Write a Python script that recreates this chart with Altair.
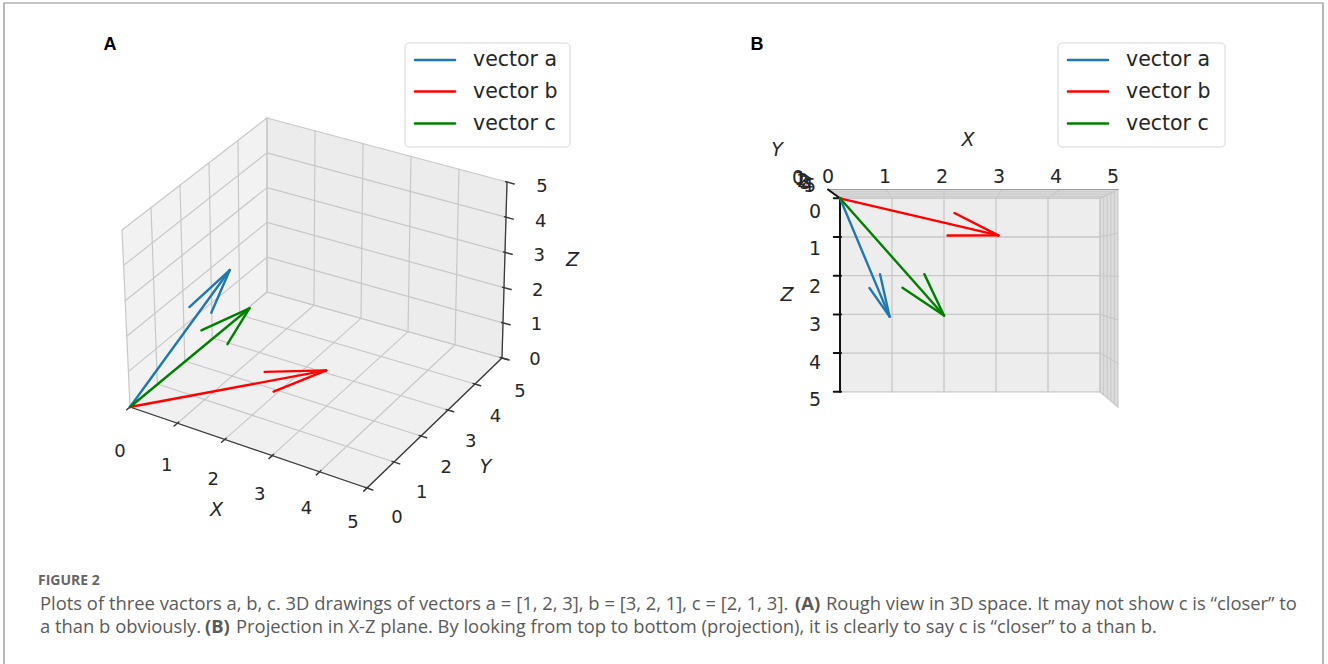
import altair as alt
import numpy as np
import pandas as pd

# ---------------- data ----------------
vector_names = ["vector a", "vector b", "vector c"]
vector_a = [1, 2, 3]
vector_b = [3, 2, 1]
vector_c = [2, 1, 3]
vector_colors = ["#1f77b4", "#ff0000", "#008000"]
tick_values = [0, 1, 2, 3, 4, 5]
axis_titles = ["X", "Y", "Z"]
panel_letters = ["A", "B"]
caption_head = "FIGURE 2"
caption_line1 = ["Plots of three vactors a, b, c. 3D drawings of vectors a = [1, 2, 3], b = [3, 2, 1], c = [2, 1, 3].",
                 "(A)",
                 "Rough view in 3D space. It may not show c is \u201ccloser\u201d to"]
caption_line2 = ["a than b obviously.",
                 "(B)",
                 "Projection in X-Z plane. By looking from top to bottom (projection), it is clearly to say c is \u201ccloser\u201d to a than b."]

# ---------------- layout ----------------
W, H = 1328, 664
# panel A: screen corners of the 0..5 cube (flags: 0 -> 0, 1 -> 5)
A_CORNERS = {
    (0, 0, 0): (130, 407), (1, 0, 0): (367, 488), (0, 1, 0): (267, 292), (1, 1, 0): (502, 358),
    (0, 0, 1): (122, 230), (1, 0, 1): (364, 306), (0, 1, 1): (267, 118), (1, 1, 1): (507, 182),
}
# panel B: far face (y=0) and near face (y=5): (x0, sx, y0, sz)
B_FAR = (840.0, 52.0, 198.3, 38.7)
B_NEAR = (828.0, 58.0, 189.5, 43.5)


def projA(x, y, z):
    u, v, w = x / 5.0, y / 5.0, z / 5.0
    px = py = 0.0
    for (i, j, k), (cx, cy) in A_CORNERS.items():
        wt = (u if i else 1 - u) * (v if j else 1 - v) * (w if k else 1 - w)
        px += wt * cx
        py += wt * cy
    return px, py


def projB(x, y, z):
    t = y / 5.0
    fx = B_FAR[0] + B_FAR[1] * x
    fy = B_FAR[2] + B_FAR[3] * z
    nx = B_NEAR[0] + B_NEAR[1] * x
    ny = B_NEAR[2] + B_NEAR[3] * z
    return fx + (nx - fx) * t, fy + (ny - fy) * t


def arrow_heads(vec, ratio=0.3, angle=15.0):
    v = np.array(vec, dtype=float)
    norm = np.linalg.norm(v[:2])
    k = np.array([v[1] / norm, -v[0] / norm, 0.0]) if norm else np.array([0.0, 1.0, 0.0])
    th = np.radians(angle)
    out = []
    for sgn in (1, -1):
        vr = v * np.cos(th) + sgn * np.cross(k, v) * np.sin(th) + k * np.dot(k, v) * (1 - np.cos(th))
        out.append(tuple(v - ratio * vr))
    return out


segs = []


def seg(p, q, c, w):
    segs.append(dict(x=float(p[0]), y=float(p[1]), x2=float(q[0]), y2=float(q[1]), c=c, w=w))


panes = []


def pane(pts, color):
    path = "M" + "L".join(f"{float(px):.2f},{float(py):.2f}" for px, py in pts) + "Z"
    panes.append((path, color))


texts = []
TICK = "#262626"


def txt(x, y, t, size, color=TICK, font="DejaVu Sans", weight="normal", style="normal", align="center"):
    texts.append(dict(x=float(x), y=float(y), t=t, size=size, color=color, font=font, weight=weight, style=style, align=align))


vectors = [vector_a, vector_b, vector_c]
GRID = "#c8c8c8"

# ---------------- panel A ----------------
pane([projA(0, 0, 0), projA(0, 5, 0), projA(0, 5, 5), projA(0, 0, 5)], "#f2f2f2")
pane([projA(0, 5, 0), projA(5, 5, 0), projA(5, 5, 5), projA(0, 5, 5)], "#ececec")
pane([projA(0, 0, 0), projA(5, 0, 0), projA(5, 5, 0), projA(0, 5, 0)], "#f0f0f0")

for t in tick_values:
    seg(projA(t, 0, 0), projA(t, 5, 0), GRID, 1.2)
    seg(projA(0, t, 0), projA(5, t, 0), GRID, 1.2)
    seg(projA(0, t, 0), projA(0, t, 5), GRID, 1.2)
    seg(projA(0, 0, t), projA(0, 5, t), GRID, 1.2)
    seg(projA(t, 5, 0), projA(t, 5, 5), GRID, 1.2)
    seg(projA(0, 5, t), projA(5, 5, t), GRID, 1.2)

AX = "#3a3a3a"
seg(projA(0, 0, 0), projA(5, 0, 0), AX, 1.3)
seg(projA(5, 0, 0), projA(5, 5, 0), AX, 1.3)
seg(projA(5, 5, 0), projA(5, 5, 5), AX, 1.3)
for t in tick_values:
    seg(projA(t, -0.12, 0), projA(t, 0.05, 0), AX, 1.5)
    seg(projA(5.12, t, 0), projA(4.96, t, 0), AX, 1.5)
    seg(projA(5.15, 5, t), projA(4.97, 5, t), AX, 1.5)

for vec, col in zip(vectors, vector_colors):
    tip = projA(*vec)
    seg(projA(0, 0, 0), tip, col, 2.4)
    for h in arrow_heads(vec):
        seg(tip, projA(*h), col, 2.4)

for t in tick_values:
    f = t / 5.0
    bx, by = projA(t, 0, 0)
    txt(bx - 10 - 4 * f, by + 45 - 10 * f, str(t), 18)
    bx, by = projA(5, t, 0)
    txt(bx + 30 - 12 * f, by + 30 + 4 * f, str(t), 18)
    bx, by = projA(5, 5, t)
    txt(bx + 33 + 2 * f, by + 2 + 3 * f, str(t), 18)

bx, by = projA(2.5, 0, 0)
txt(bx - 32, by + 62, axis_titles[0], 19, style="italic")
bx, by = projA(5, 2.5, 0)
txt(bx + 51, by + 44, axis_titles[1], 19, style="italic")
bx, by = projA(5, 5, 2.5)
txt(bx + 68, by - 10, axis_titles[2], 19, style="italic")

# ---------------- panel B ----------------
pane([projB(0, 0, 0), projB(5, 0, 0), projB(5, 0, 5), projB(0, 0, 5)], "#ededed")
pane([projB(5, 0, 0), projB(5, 5, 0), projB(5, 5, 5), projB(5, 0, 5)], "#dcdcdc")
pane([projB(0, 0, 0), projB(0, 5, 0), projB(5, 5, 0), projB(5, 0, 0)], "#e2e2e2")

for t in tick_values:
    seg(projB(t, 0, 0), projB(t, 0, 5), GRID, 1.3)
    seg(projB(0, 0, t), projB(5, 0, t), GRID, 1.3)
    seg(projB(5, 0, t), projB(5, 5, t), GRID, 1.1)
    seg(projB(5, t, 0), projB(5, t, 5), GRID, 1.1)
    seg(projB(t, 0, 0), projB(t, 5, 0), GRID, 1.1)
    seg(projB(0, t, 0), projB(5, t, 0), GRID, 1.1)

seg(projB(0, 5, 0), projB(5, 5, 0), "#9a9a9a", 1.2)
seg(projB(0, 0, 0), projB(0, 0, 5), "#111111", 2.0)
seg(projB(0, 0, 0), projB(0, 5, 0), "#111111", 2.0)
for t in tick_values:
    seg(projB(-0.12, 0, t), projB(0.02, 0, t), "#111111", 2.0)

for vec, col in zip(vectors, vector_colors):
    tip = projB(*vec)
    seg(projB(0, 0, 0), tip, col, 2.4)
    for h in arrow_heads(vec):
        seg(tip, projB(*h), col, 2.4)

for t in tick_values:
    bx, by = projB(t, 5, 0)
    txt(bx - t, by - 12.5, str(t), 19)
    bx, by = projB(0, 0, t)
    txt(bx - 25, by + 13.4 - 1.0 * t, str(t), 19)
    bx, by = projB(0, t, 0)
    txt(bx - 30, by - 12, str(5 - t), 19)

txt(968, 140, axis_titles[0], 19, style="italic")
txt(777, 150, axis_titles[1], 19, style="italic")
txt(787, 295, axis_titles[2], 19, style="italic")

# ---------------- legends ----------------
legend_boxes = [dict(x=405, x2=570, y=43, y2=147), dict(x=1058, x2=1225, y=43, y2=147)]
legend_rows = [60, 91.5, 123.5]
for box in legend_boxes:
    for name, col, ly in zip(vector_names, vector_colors, legend_rows):
        seg((box["x"] + 10, ly), (box["x"] + 50, ly), col, 2.6)
        txt(box["x"] + 68, ly, name, 20.5, color="#262626", align="left")

# ---------------- panel letters and caption ----------------
txt(110, 45, panel_letters[0], 18, color="#000000", font="Liberation Sans", weight="bold")
txt(757, 45, panel_letters[1], 18, color="#000000", font="Liberation Sans", weight="bold")

CAP = "#5a5a5a"
CF = "Open Sans"
CS = 18.4
txt(38, 581, caption_head, 14, color="#666666", font=CF, weight="bold", align="left")
txt(40, 604, caption_line1[0], CS, color=CAP, font=CF, align="left")
txt(795, 604, caption_line1[1], CS, color=CAP, font=CF, weight="bold", align="left")
txt(826, 604, caption_line1[2], CS, color=CAP, font=CF, align="left")
txt(40, 627, caption_line2[0], CS, color=CAP, font=CF, align="left")
txt(205, 627, caption_line2[1], CS, color=CAP, font=CF, weight="bold", align="left")
txt(236, 627, caption_line2[2], CS, color=CAP, font=CF, align="left")

# ---------------- chart ----------------
xs = alt.Scale(domain=[0, W], nice=False, zero=False)
ys = alt.Scale(domain=[0, H], nice=False, zero=False, reverse=True)

seg_df = pd.DataFrame(segs)
text_df = pd.DataFrame(texts)

border = alt.Chart(pd.DataFrame([dict(x=4, x2=1323, y=3, y2=700)])).mark_rect(
    fill="white", fillOpacity=0, stroke="#8c8c8c", strokeWidth=1.2
).encode(
    x=alt.X("x:Q", scale=xs, axis=None), x2="x2:Q",
    y=alt.Y("y:Q", scale=ys, axis=None), y2="y2:Q",
)

# panes: filled polygons drawn as custom symbol paths anchored at the pixel origin (size 4 -> 1 px per unit)
anchor = pd.DataFrame([dict(x=0.0, y=0.0)])
pane_layers = []
for path, col in panes:
    pane_layers.append(
        alt.Chart(anchor).mark_point(shape=path, size=4, filled=True, fill=col, opacity=1, strokeWidth=0).encode(
            x=alt.X("x:Q", scale=xs, axis=None),
            y=alt.Y("y:Q", scale=ys, axis=None),
        )
    )

rules = alt.Chart(seg_df).mark_rule(strokeCap="round").encode(
    x=alt.X("x:Q", scale=xs, axis=None), x2="x2:Q",
    y=alt.Y("y:Q", scale=ys, axis=None), y2="y2:Q",
    color=alt.Color("c:N", scale=None),
    strokeWidth=alt.StrokeWidth("w:Q", scale=None),
)

legend_df = pd.DataFrame(legend_boxes)
legend_bg = alt.Chart(legend_df).mark_rect(
    fill="white", fillOpacity=0.85, stroke="#d6d6d6", strokeWidth=1, cornerRadius=4
).encode(
    x=alt.X("x:Q", scale=xs, axis=None), x2="x2:Q",
    y=alt.Y("y:Q", scale=ys, axis=None), y2="y2:Q",
)

seg_under = seg_df.iloc[: len(seg_df) - 6]
seg_leg = seg_df.iloc[len(seg_df) - 6:]
rules_main = rules.properties(data=seg_under)
rules_leg = rules.properties(data=seg_leg)

layers = [border] + pane_layers + [rules_main, legend_bg, rules_leg]
for (font, weight, style, align), g in text_df.groupby(["font", "weight", "style", "align"]):
    layers.append(
        alt.Chart(g).mark_text(font=font, fontWeight=weight, fontStyle=style, align=align, baseline="middle").encode(
            x=alt.X("x:Q", scale=xs, axis=None),
            y=alt.Y("y:Q", scale=ys, axis=None),
            text="t:N",
            size=alt.Size("size:Q", scale=None),
            color=alt.Color("color:N", scale=None),
        )
    )

chart = alt.layer(*layers).properties(
    width=W, height=H, autosize=alt.AutoSizeParams(type="none"), padding=0, background="white"
).configure_view(stroke=None)

chart.save("out.html", embed_options={"renderer": "svg", "actions": False})
